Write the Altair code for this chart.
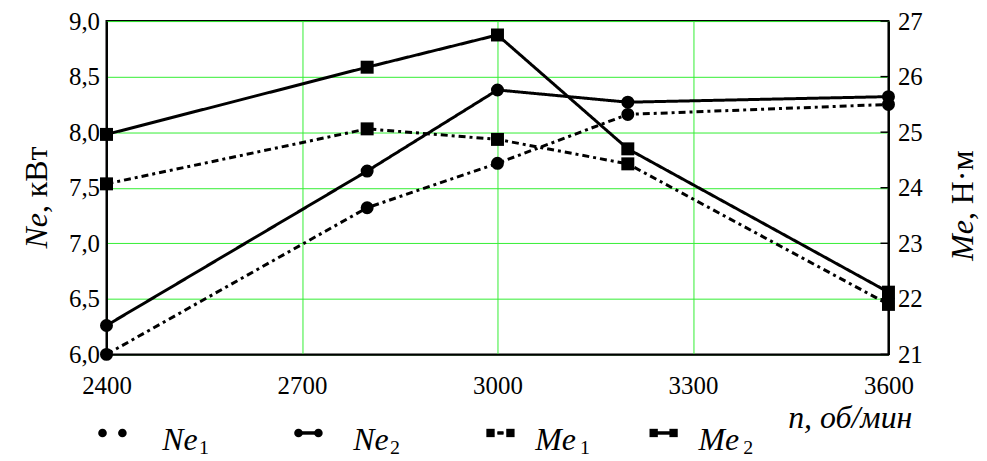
import altair as alt
import pandas as pd

# ---- data ----
rpm = [2400, 2800, 3000, 3200, 3600]
ne1 = [6.00, 7.32, 7.72, 8.16, 8.25]
ne2 = [6.26, 7.65, 8.38, 8.27, 8.32]
me1 = [24.07, 25.06, 24.87, 24.43, 21.90]
me2 = [24.96, 26.17, 26.75, 24.70, 22.12]

x_ticks = [2400, 2700, 3000, 3300, 3600]
ne_ticks = [6.0, 6.5, 7.0, 7.5, 8.0, 8.5, 9.0]
me_ticks = [21, 22, 23, 24, 25, 26, 27]

series_names = ["Ne1", "Ne2", "Me1", "Me2"]

FONT = "Liberation Serif"
GRID = "#33ee33"
W, H = 786, 335
DOTTED = [7, 4, 3, 4]
SOLID = [1, 0]

ne_df = pd.DataFrame(
    [{"rpm": r, "val": v, "series": "Ne1"} for r, v in zip(rpm, ne1)]
    + [{"rpm": r, "val": v, "series": "Ne2"} for r, v in zip(rpm, ne2)]
)
me_df = pd.DataFrame(
    [{"rpm": r, "val": v, "series": "Me1"} for r, v in zip(rpm, me1)]
    + [{"rpm": r, "val": v, "series": "Me2"} for r, v in zip(rpm, me2)]
)

x_enc = alt.X(
    "rpm:Q",
    scale=alt.Scale(domain=[2400, 3600], nice=False, zero=False),
    axis=alt.Axis(
        values=x_ticks, grid=True, gridColor=GRID, gridWidth=1, ticks=False,
        domainColor="black", domainWidth=2, labelFont=FONT, labelFontSize=25,
        labelColor="black", labelPadding=19, title=None, labelFlush=False,
        format="d",
    ),
)

ne_y = alt.Y(
    "val:Q",
    scale=alt.Scale(domain=[6, 9], nice=False, zero=False),
    axis=alt.Axis(
        orient="left", values=ne_ticks, grid=True, gridColor=GRID, gridWidth=1,
        ticks=False, domainColor="black", domainWidth=2, labelFont=FONT,
        labelFontSize=25, labelColor="black", labelPadding=7, title=None,
        labelExpr="replace(format(datum.value, '.1f'), '.', ',')",
    ),
)
me_y = alt.Y(
    "val:Q",
    scale=alt.Scale(domain=[21, 27], nice=False, zero=False),
    axis=alt.Axis(
        orient="right", values=me_ticks, grid=False, ticks=False,
        domainColor="black", domainWidth=2, labelFont=FONT, labelFontSize=25,
        labelColor="black", labelPadding=9, title=None, format="d",
    ),
)

dash_ne = alt.StrokeDash("series:N", scale=alt.Scale(domain=["Ne1", "Ne2"], range=[DOTTED, SOLID]), legend=None)
dash_me = alt.StrokeDash("series:N", scale=alt.Scale(domain=["Me1", "Me2"], range=[DOTTED, SOLID]), legend=None)

ne_base = alt.Chart(ne_df)
ne_layer = alt.layer(
    ne_base.mark_line(color="black", strokeWidth=3).encode(x=x_enc, y=ne_y, strokeDash=dash_ne, detail="series:N"),
    ne_base.mark_point(filled=True, shape="circle", size=170, color="black", opacity=1).encode(x="rpm:Q", y="val:Q"),
)

me_base = alt.Chart(me_df)
me_tick_df = pd.DataFrame({"val": me_ticks})
me_layer = alt.layer(
    me_base.mark_line(color="black", strokeWidth=3).encode(x=x_enc, y=me_y, strokeDash=dash_me, detail="series:N"),
    me_base.mark_point(filled=True, shape="square", size=170, color="black", opacity=1).encode(x="rpm:Q", y="val:Q"),
    alt.Chart(me_tick_df).mark_rule(color="black", strokeWidth=1.5).encode(
        y="val:Q", x=alt.value(W - 8), x2=alt.value(W)
    ),
)

# ---- axis titles (mixed italic / upright) ----
def txt(text, x, y, size, style="normal", align="left", baseline="alphabetic", angle=0):
    kw = dict(text=text, font=FONT, fontSize=size, fontStyle=style, align=align,
              baseline=baseline, color="black")
    if angle:
        kw["angle"] = angle
    return alt.Chart(pd.DataFrame({"a": [0]})).mark_text(**kw).encode(x=alt.value(x), y=alt.value(y))

titles = [
    txt("Ne", -60, 193, 32, "italic", "right", angle=270),
    txt(", кВт", -60, 193, 32, "normal", "left", angle=270),
    txt("Me", 871, 200, 32, "italic", "right", angle=270),
    txt(", Н·м", 871, 200, 32, "normal", "left", angle=270),
    txt("n, об/мин", 810, 409, 32, "italic", "right"),
]

# ---- custom legend ----
LEG_Y = 414
LAB_Y = 431
sym_x = [-4, 193, 386, 550]
lab_x = [56, 248, 431, 595]
sym_gap = 20
leg_layers = []
for i, name in enumerate(series_names):
    shape = "circle" if name.startswith("Ne") else "square"
    pts = pd.DataFrame({"px": [sym_x[i], sym_x[i] + sym_gap]})
    if name.endswith("2"):
        leg_layers.append(alt.Chart(pts).mark_rule(color="black", strokeWidth=3).encode(
            x=alt.value(sym_x[i]), x2=alt.value(sym_x[i] + sym_gap), y=alt.value(LEG_Y)))
    elif shape == "square":
        leg_layers.append(alt.Chart(pts).mark_rule(color="black", strokeWidth=3).encode(
            x=alt.value(sym_x[i] + 7), x2=alt.value(sym_x[i] + 13), y=alt.value(LEG_Y)))
    leg_layers.append(alt.Chart(pts).mark_point(filled=True, shape=shape, size=75 if shape == "circle" else 70,
                                                color="black", opacity=1).encode(
        x=alt.X("px:Q", scale=None), y=alt.value(LEG_Y)))
    leg_layers.append(txt(name[:2], lab_x[i], LAB_Y, 32, "italic"))
    leg_layers.append(txt(name[2], lab_x[i] + (37 if name.startswith("Ne") else 45), LAB_Y + 4, 20))

chart = alt.layer(ne_layer, me_layer, *titles, *leg_layers).resolve_scale(
    y="independent", strokeDash="independent"
).properties(
    width=W, height=H,
    padding={"left": 13, "top": 0, "right": 0, "bottom": 0},
    view=alt.ViewBackground(stroke="black", strokeWidth=2),
)

chart.save("out.html", embed_options={"renderer": "svg", "actions": False})
